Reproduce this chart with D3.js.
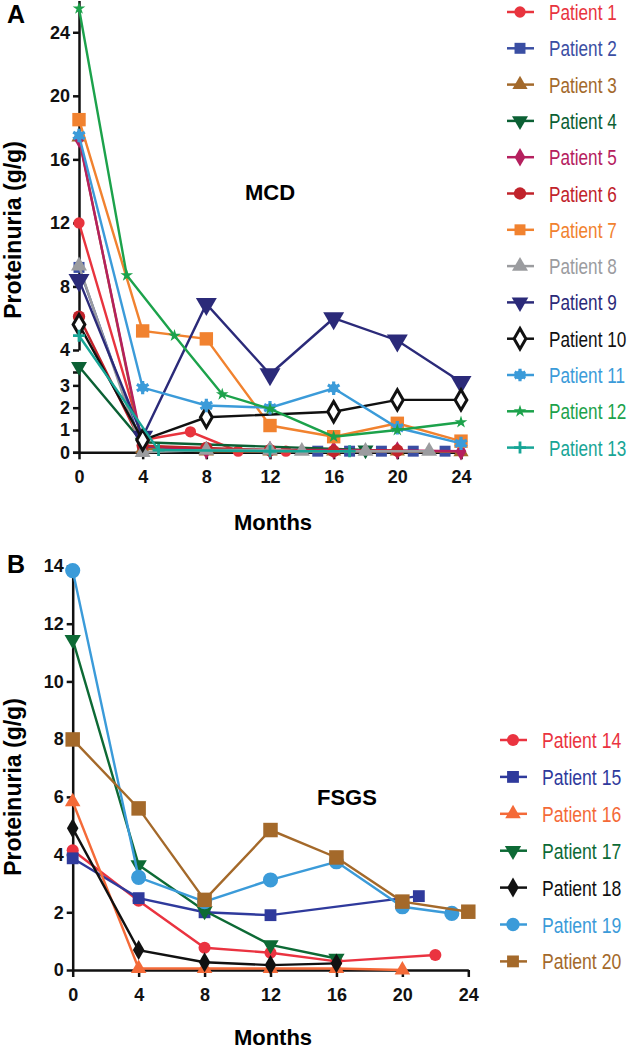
<!DOCTYPE html>
<html>
<head>
<meta charset="utf-8">
<script src="https://cdn.jsdelivr.net/npm/d3@7"></script>
<style>
  body { margin: 0; background: #fff; }
  text { font-family: "Liberation Sans", Arial, sans-serif; }
</style>
</head>
<body>
<svg id="chart" width="630" height="1051"></svg>
<script>
// ---- panel A : MCD ----
var mcdNames = ["Patient 1","Patient 2","Patient 3","Patient 4","Patient 5","Patient 6","Patient 7",
                "Patient 8","Patient 9","Patient 10","Patient 11","Patient 12","Patient 13"];
var mcdMonths = [
  [0,4,7,10,13],
  [0,4,15,17,19,21,23],
  [0,4,8,12,16,20,24],
  [0,4,18],
  [0,4,8,12,16,20,24],
  [0,4,8,12,16,20],
  [0,4,8,12,16,20,24],
  [0,4,8,12,14,18,22],
  [0,4,8,12,16,20,24],
  [0,4,8,16,20,24],
  [0,4,8,12,16,20,24],
  [0,3,6,9,12,16,20,24],
  [0,5,12,17]
];
var mcdValues = [
  [12,0.55,0.92,0.05,0.05],
  [9.2,0.2,0.05,0.05,0.05,0.05,0.05],
  [17.4,0.15,0.05,0.05,0.05,0.05,0.02],
  [3.7,0.45,0.1],
  [17.3,0.3,0.1,0.1,0.1,0.08,0.05],
  [6.1,0.3,0.2,0.1,0.05,0.08],
  [18.5,5.2,4.7,1.2,0.7,1.3,0.5],
  [9.3,0.0,0.1,0.1,0.05,0.05,0.05],
  [8.4,0.7,6.9,3.5,6.0,4.6,3.15],
  [5.6,0.55,1.57,1.82,2.35,2.35],
  [17.5,2.9,2.1,2.0,2.87,1.1,0.4],
  [25.5,8.7,4.9,2.6,1.95,0.7,1.0,1.35],
  [4.9,0.1,0.05,0.05]
];
var mcdColors = ["#e8343e","#3a4ea3","#a3692b","#0b6034","#b5205e","#c1232b","#f1822f",
                 "#9b9c9f","#2b2a79","#111111","#3b9bd9","#1ca24b","#17a596"];
var mcdShapes = ["circle","square","triangle","triangleDown","diamond","circle","square",
                 "triangle","triangleDown","diamondOpen","asterisk","star","cross"];
var mcdSizes = [100,120,100,110,100,120,180,110,190,120,140,50,120];
var mcdTicksLow = [0,1,2,3];
var mcdTicksHigh = [4,8,12,16,20,24];

// ---- panel B : FSGS ----
var fsgsNames = ["Patient 14","Patient 15","Patient 16","Patient 17","Patient 18","Patient 19","Patient 20"];
var fsgsMonths = [
  [0,4,8,12,16,22],
  [0,4,8,12,21],
  [0,4,8,12,16,20],
  [0,4,8,12,16],
  [0,4,8,12,16],
  [0,4,8,12,16,20,23],
  [0,4,8,12,16,20,24]
];
var fsgsValues = [
  [4.15,2.4,0.77,0.6,0.3,0.52],
  [3.87,2.49,2.0,1.9,2.56],
  [5.83,0.05,0.05,0.05,0.05,0.0],
  [11.45,3.64,2.05,0.87,0.4],
  [4.91,0.69,0.27,0.17,0.23],
  [13.84,3.21,2.37,3.12,3.75,2.19,1.96],
  [7.99,5.6,2.43,4.85,3.9,2.37,2.02]
];
var fsgsColors = ["#ea3340","#2f3a9c","#f46a38","#0d6a35","#111111","#3b9bd9","#a4692a"];
var fsgsShapes = ["circle","square","triangle","triangleDown","diamond","circle","square"];
var fsgsSizes = [115,140,105,115,115,180,210];
var fsgsTicksY = [0,2,4,6,8,10,12,14];
var monthTicks = [0,4,8,12,16,20,24];

var svg = d3.select("#chart");

// marker drawing
function drawMarker(g, shape, size, color) {
  var p;
  if (shape == "asterisk") {
    g.append("circle").attr("r", 4.5).attr("fill", color);
    g.append("path").attr("d", d3.symbol(d3.symbolAsterisk, size * 0.9)())
      .attr("fill", "none").attr("stroke", color).attr("stroke-width", 3.2);
    return;
  }
  if (shape == "cross") {
    g.append("path").attr("d", "M-6,0H6M0,-6V6").attr("stroke", color).attr("stroke-width", 2.8);
    return;
  }
  var type = {circle: d3.symbolCircle, square: d3.symbolSquare, triangle: d3.symbolTriangle,
              triangleDown: d3.symbolTriangle, diamond: d3.symbolDiamond,
              diamondOpen: d3.symbolDiamond, star: d3.symbolStar}[shape];
  p = g.append("path").attr("d", d3.symbol(type, size)());
  if (shape == "triangleDown") p.attr("transform", "rotate(180)");
  if (shape == "diamondOpen") {
    p.attr("fill", "#fff").attr("stroke", color).attr("stroke-width", 3);
  } else {
    p.attr("fill", color);
  }
}

function drawSeries(g, x, y, months, values, color, shape, size) {
  var pts = months.map(function(m, i) { return [m, values[i]]; });
  var line = d3.line().x(function(d) { return x(d[0]); }).y(function(d) { return y(d[1]); });
  g.append("path").datum(pts).attr("d", line)
    .attr("fill", "none").attr("stroke", color).attr("stroke-width", 2.4);
  pts.forEach(function(d) {
    var m = g.append("g").attr("transform", "translate(" + x(d[0]) + "," + y(d[1]) + ")");
    drawMarker(m, shape, size, color);
  });
}

function styleAxis(a) {
  a.selectAll("path, line").attr("stroke", "#111").attr("stroke-width", 2.5);
  a.selectAll("text").attr("font-size", 18).attr("font-weight", "bold").attr("fill", "#111")
    .attr("font-family", "'Liberation Sans', Arial, sans-serif");
}

// legend text is condensed in the original, squeeze it horizontally
function drawLegend(names, colors, shapes, sizes, x0, y0, step, squeeze) {
  var lg = svg.append("g").attr("class", "legend");
  names.forEach(function(n, i) {
    var yy = y0 + i * step;
    lg.append("line").attr("x1", x0 - 13).attr("x2", x0 + 14).attr("y1", yy).attr("y2", yy)
      .attr("stroke", colors[i]).attr("stroke-width", 2.5);
    var m = lg.append("g").attr("transform", "translate(" + x0 + "," + yy + ")");
    drawMarker(m, shapes[i], sizes[i], colors[i]);
    lg.append("text").attr("transform", "translate(" + (x0 + 29) + "," + (yy + 8) + ") scale(" + squeeze + ",1)")
      .attr("font-size", 22).attr("fill", colors[i]).text(n);
  });
}

// ===== Panel A =====
var xA = d3.scaleLinear().domain([0, 24]).range([79, 461]);
var yA = d3.scaleLinear().domain([0, 3.6, 4, 26]).range([452.3, 372, 350, 0.5]);
var yALow = d3.scaleLinear().domain([0, 3.6]).range([452.3, 372]);
var yAHigh = d3.scaleLinear().domain([4, 26]).range([350, 0.5]);

var gA = svg.append("g");
var axL = gA.append("g").attr("transform", "translate(79,0)")
  .call(d3.axisLeft(yALow).tickValues(mcdTicksLow).tickFormat(d3.format("d"))
    .tickSize(6).tickSizeOuter(6).tickPadding(3));
styleAxis(axL);
var axH = gA.append("g").attr("transform", "translate(79,0)")
  .call(d3.axisLeft(yAHigh).tickValues(mcdTicksHigh).tickFormat(d3.format("d"))
    .tickSize(6).tickSizeOuter(0).tickPadding(3));
styleAxis(axH);
var axXA = gA.append("g").attr("transform", "translate(0,452.3)")
  .call(d3.axisBottom(xA).tickValues(monthTicks).tickSize(7).tickSizeOuter(0).tickPadding(11));
styleAxis(axXA);

mcdNames.forEach(function(n, i) {
  drawSeries(gA, xA, yA, mcdMonths[i], mcdValues[i], mcdColors[i], mcdShapes[i], mcdSizes[i]);
});

svg.append("text").attr("x", 7).attr("y", 23).attr("font-size", 25).attr("font-weight", "bold").text("A");
svg.append("text").attr("x", 270).attr("y", 200).attr("font-size", 22).attr("font-weight", "bold")
  .attr("text-anchor", "middle").text("MCD");
svg.append("text").attr("x", 273).attr("y", 530).attr("font-size", 22).attr("font-weight", "bold")
  .attr("text-anchor", "middle").text("Months");
svg.append("text").attr("transform", "translate(21,230) rotate(-90)").attr("font-size", 23)
  .attr("font-weight", "bold").attr("text-anchor", "middle").text("Proteinuria (g/g)");

drawLegend(mcdNames, mcdColors, mcdShapes, mcdSizes.map(function(s) { return Math.min(s, 120); }),
  520, 12, 36.3, 0.78);

// ===== Panel B =====
var xB = d3.scaleLinear().domain([0, 24]).range([72.7, 468.3]);
var yB = d3.scaleLinear().domain([0, 14]).range([970, 566]);

var gB = svg.append("g");
var axYB = gB.append("g").attr("transform", "translate(72.7,0)")
  .call(d3.axisLeft(yB).tickValues(fsgsTicksY).tickSize(6).tickSizeOuter(0).tickPadding(3));
styleAxis(axYB);
var axXB = gB.append("g").attr("transform", "translate(0,970)")
  .call(d3.axisBottom(xB).tickValues(monthTicks).tickSize(7).tickSizeOuter(0).tickPadding(11));
styleAxis(axXB);

fsgsNames.forEach(function(n, i) {
  drawSeries(gB, xB, yB, fsgsMonths[i], fsgsValues[i], fsgsColors[i], fsgsShapes[i], fsgsSizes[i]);
});

svg.append("text").attr("x", 7).attr("y", 573).attr("font-size", 25).attr("font-weight", "bold").text("B");
svg.append("text").attr("x", 317).attr("y", 805).attr("font-size", 22).attr("font-weight", "bold").text("FSGS");
svg.append("text").attr("x", 273).attr("y", 1045).attr("font-size", 22).attr("font-weight", "bold")
  .attr("text-anchor", "middle").text("Months");
svg.append("text").attr("transform", "translate(21,787) rotate(-90)").attr("font-size", 23)
  .attr("font-weight", "bold").attr("text-anchor", "middle").text("Proteinuria (g/g)");

drawLegend(fsgsNames, fsgsColors, fsgsShapes, fsgsSizes.map(function(s) { return Math.min(s, 140); }),
  513, 740, 36.9, 0.8);
</script>
</body>
</html>
